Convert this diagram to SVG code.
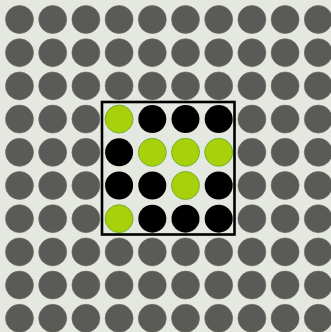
<svg xmlns="http://www.w3.org/2000/svg" width="331" height="332" viewBox="0 0 331 332">
<style>
.g{fill:#5a5b58;stroke:#6b6e5e;stroke-width:0.6}
.k{fill:#000}
.v{fill:#a8d10c;stroke:#5fa82a;stroke-width:0.8}
</style>
<defs>
<circle id="c" r="14"/>
</defs>
<rect width="331" height="332" fill="#e5e7e1"/>
<g id="grid">
<g transform="translate(0,19.5)">
<use href="#c" class="g" x="19.5"/><use href="#c" class="g" x="52.7"/><use href="#c" class="g" x="85.9"/><use href="#c" class="g" x="119.1"/><use href="#c" class="g" x="152.3"/><use href="#c" class="g" x="185.5"/><use href="#c" class="g" x="218.7"/><use href="#c" class="g" x="251.9"/><use href="#c" class="g" x="285.1"/><use href="#c" class="g" x="318.3"/>
</g>
<g transform="translate(0,52.7)">
<use href="#c" class="g" x="19.5"/><use href="#c" class="g" x="52.7"/><use href="#c" class="g" x="85.9"/><use href="#c" class="g" x="119.1"/><use href="#c" class="g" x="152.3"/><use href="#c" class="g" x="185.5"/><use href="#c" class="g" x="218.7"/><use href="#c" class="g" x="251.9"/><use href="#c" class="g" x="285.1"/><use href="#c" class="g" x="318.3"/>
</g>
<g transform="translate(0,85.9)">
<use href="#c" class="g" x="19.5"/><use href="#c" class="g" x="52.7"/><use href="#c" class="g" x="85.9"/><use href="#c" class="g" x="119.1"/><use href="#c" class="g" x="152.3"/><use href="#c" class="g" x="185.5"/><use href="#c" class="g" x="218.7"/><use href="#c" class="g" x="251.9"/><use href="#c" class="g" x="285.1"/><use href="#c" class="g" x="318.3"/>
</g>
<g transform="translate(0,119.1)">
<use href="#c" class="g" x="19.5"/><use href="#c" class="g" x="52.7"/><use href="#c" class="g" x="85.9"/><use href="#c" class="v" x="119.1"/><use href="#c" class="k" x="152.3"/><use href="#c" class="k" x="185.5"/><use href="#c" class="k" x="218.7"/><use href="#c" class="g" x="251.9"/><use href="#c" class="g" x="285.1"/><use href="#c" class="g" x="318.3"/>
</g>
<g transform="translate(0,152.3)">
<use href="#c" class="g" x="19.5"/><use href="#c" class="g" x="52.7"/><use href="#c" class="g" x="85.9"/><use href="#c" class="k" x="119.1"/><use href="#c" class="v" x="152.3"/><use href="#c" class="v" x="185.5"/><use href="#c" class="v" x="218.7"/><use href="#c" class="g" x="251.9"/><use href="#c" class="g" x="285.1"/><use href="#c" class="g" x="318.3"/>
</g>
<g transform="translate(0,185.5)">
<use href="#c" class="g" x="19.5"/><use href="#c" class="g" x="52.7"/><use href="#c" class="g" x="85.9"/><use href="#c" class="k" x="119.1"/><use href="#c" class="k" x="152.3"/><use href="#c" class="v" x="185.5"/><use href="#c" class="k" x="218.7"/><use href="#c" class="g" x="251.9"/><use href="#c" class="g" x="285.1"/><use href="#c" class="g" x="318.3"/>
</g>
<g transform="translate(0,218.7)">
<use href="#c" class="g" x="19.5"/><use href="#c" class="g" x="52.7"/><use href="#c" class="g" x="85.9"/><use href="#c" class="v" x="119.1"/><use href="#c" class="k" x="152.3"/><use href="#c" class="k" x="185.5"/><use href="#c" class="k" x="218.7"/><use href="#c" class="g" x="251.9"/><use href="#c" class="g" x="285.1"/><use href="#c" class="g" x="318.3"/>
</g>
<g transform="translate(0,251.9)">
<use href="#c" class="g" x="19.5"/><use href="#c" class="g" x="52.7"/><use href="#c" class="g" x="85.9"/><use href="#c" class="g" x="119.1"/><use href="#c" class="g" x="152.3"/><use href="#c" class="g" x="185.5"/><use href="#c" class="g" x="218.7"/><use href="#c" class="g" x="251.9"/><use href="#c" class="g" x="285.1"/><use href="#c" class="g" x="318.3"/>
</g>
<g transform="translate(0,285.1)">
<use href="#c" class="g" x="19.5"/><use href="#c" class="g" x="52.7"/><use href="#c" class="g" x="85.9"/><use href="#c" class="g" x="119.1"/><use href="#c" class="g" x="152.3"/><use href="#c" class="g" x="185.5"/><use href="#c" class="g" x="218.7"/><use href="#c" class="g" x="251.9"/><use href="#c" class="g" x="285.1"/><use href="#c" class="g" x="318.3"/>
</g>
<g transform="translate(0,318.3)">
<use href="#c" class="g" x="19.5"/><use href="#c" class="g" x="52.7"/><use href="#c" class="g" x="85.9"/><use href="#c" class="g" x="119.1"/><use href="#c" class="g" x="152.3"/><use href="#c" class="g" x="185.5"/><use href="#c" class="g" x="218.7"/><use href="#c" class="g" x="251.9"/><use href="#c" class="g" x="285.1"/><use href="#c" class="g" x="318.3"/>
</g>
</g>
<g id="box">
<rect x="102" y="102" width="132.5" height="132.5" fill="none" stroke="#000" stroke-width="2.6"/>
</g>
</svg>
